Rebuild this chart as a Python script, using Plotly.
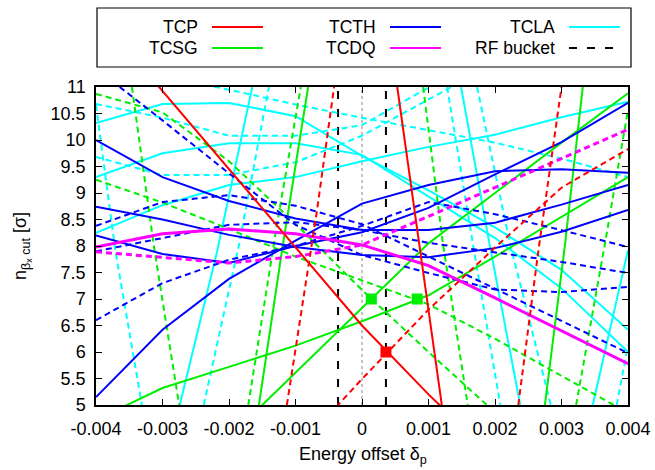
import plotly.graph_objects as go

# ---------------- data ----------------
DP = [-0.004, -0.003, -0.002, -0.001, 0.0, 0.001, 0.002, 0.003, 0.004]

# TCP (red)
tcp_s1_x = DP
tcp_s1_y = [12.4, 10.93, 9.45, 7.98, 6.5, 5.2, 4.0, 2.8, 1.6]
tcp_s2_x = [0.00053, 0.00082, 0.0012]
tcp_s2_y = [11.0, 8.4, 5.0]
tcp_d1_x = [-0.00113, -0.00068, -0.00042]
tcp_d1_y = [5.0, 8.64, 11.0]
tcp_d2_x = DP[3:]
tcp_d2_y = [4.13, 5.49, 6.8, 7.97, 9.1, 9.83]
tcp_d3_x = [0.00235, 0.00265, 0.003]
tcp_d3_y = [5.0, 7.89, 11.0]

# TCSG (green)
tcsg_s1_x = [-0.00155, -0.0012, -0.00081]
tcsg_s1_y = [5.0, 7.94, 11.0]
tcsg_s2_x = DP[2:]
tcsg_s2_y = [4.39, 5.61, 6.83, 8.05, 9.0, 9.95, 10.88]
tcsg_s3_x = DP
tcsg_s3_y = [4.72, 5.32, 5.72, 6.12, 6.58, 7.07, 7.8, 8.55, 9.3]
tcsg_s4_x = [0.00275, 0.00305, 0.00332]
tcsg_s4_y = [5.0, 8.0, 11.0]
tcsg_d1_x = DP[:7]
tcsg_d1_y = [10.87, 10.52, 9.6, 8.42, 7.17, 6.0, 4.86]
tcsg_d2_x = DP
tcsg_d2_y = [9.25, 8.82, 8.32, 7.8, 7.35, 6.9, 6.25, 5.55, 4.85]
tcsg_d3_x = [-0.00346, -0.00313, -0.00275]
tcsg_d3_y = [11.0, 8.0, 5.0]
tcsg_d4_x = [-0.00171, -0.00128, -0.00092]
tcsg_d4_y = [5.0, 8.4, 11.0]
tcsg_d5_x = [0.00092, 0.00122, 0.00159]
tcsg_d5_y = [11.0, 8.02, 5.0]
tcsg_d6_x = [0.00322, 0.00365, 0.004]
tcsg_d6_y = [5.0, 8.02, 10.57]

# TCTH (blue)
tcth_s1_y = [10.0, 9.3, 8.85, 8.52, 8.3, 8.3, 8.44, 8.78, 9.15]
tcth_s2_y = [5.15, 6.42, 7.38, 8.1, 8.8, 9.15, 9.41, 9.45, 9.38]
tcth_s3_y = [8.74, 8.5, 8.21, 7.98, 7.83, 7.79, 7.96, 8.27, 8.68]
tcth_s4_y = [8.2, 7.85, 7.68, 8.0, 8.26, 8.72, 9.35, 9.96, 10.7]
tcth_d1_y = [11.35, 10.37, 9.37, 8.4, 7.83, 7.49, 7.18, 7.13, 7.23]
tcth_d2_y = [8.38, 8.83, 8.96, 8.76, 8.41, 7.8, 7.19, 6.59, 5.98]
tcth_d3_y = [6.6, 7.3, 7.74, 8.0, 8.38, 8.83, 8.6, 8.3, 7.98]
tcth_d4_y = [7.9, 8.15, 8.4, 8.45, 8.3, 8.06, 7.88, 7.7, 7.49]

# TCDQ (magenta)
tcdq_s_y = [7.98, 8.23, 8.32, 8.23, 8.02, 7.63, 7.02, 6.4, 5.78]
tcdq_d_y = [7.89, 7.79, 7.68, 7.8, 8.02, 8.56, 9.1, 9.65, 10.2]

# TCLA (cyan)
tcla_s1_y = [10.32, 10.68, 10.7, 10.45, 9.7, 9.05, 8.35, 7.55, 6.42]
tcla_s2_y = [9.3, 9.75, 9.94, 9.94, 9.72, 8.94, 8.15, 7.2, 6.0]
tcla_s3_y = [8.25, 8.77, 9.15, 9.3, 9.6, 9.87, 10.1, 10.43, 10.72]
tcla_s4_x = [-0.00274, -0.00218, -0.00165]
tcla_s4_y = [5.0, 7.89, 11.0]
tcla_s5_x = [0.00149, 0.00192, 0.00238]
tcla_s5_y = [11.0, 8.02, 5.0]
tcla_s6_x = [0.00347, 0.004]
tcla_s6_y = [5.0, 7.92]
tcla_d1_y = [11.4, 11.2, 10.95, 10.67, 10.42, 10.18, 9.95, 9.65, 9.3]
tcla_d2_x = DP[:7]
tcla_d2_y = [10.68, 10.42, 10.08, 10.08, 10.28, 11.0, 11.7]
tcla_d3_x = DP[:7]
tcla_d3_y = [9.68, 9.34, 9.34, 9.58, 10.08, 10.76, 11.45]
tcla_d4_x = [-0.004, -0.00371, -0.00331]
tcla_d4_y = [10.66, 7.92, 5.0]
tcla_d5_x = [-0.00238, -0.00185, -0.0014]
tcla_d5_y = [5.0, 8.02, 11.0]
tcla_d6_x = [0.00128, 0.00167, 0.00208]
tcla_d6_y = [11.0, 8.02, 5.0]
tcla_d7_x = [0.00173, 0.00223, 0.00284]
tcla_d7_y = [11.0, 8.02, 5.0]
tcla_d8_x = [0.00383, 0.004]
tcla_d8_y = [5.0, 6.13]

# RF bucket and markers
rf_half = 0.00036
tcp_mark_x = [0.00036]
tcp_mark_y = [6.0]
tcsg_mark_x = [0.00014, 0.00083]
tcsg_mark_y = [7.0, 7.0]

x_ticks = [-0.004, -0.003, -0.002, -0.001, 0, 0.001, 0.002, 0.003, 0.004]
x_ticklabels = ["-0.004", "-0.003", "-0.002", "-0.001", "0", "0.001", "0.002", "0.003", "0.004"]
y_ticks = [5, 5.5, 6, 6.5, 7, 7.5, 8, 8.5, 9, 9.5, 10, 10.5, 11]
y_ticklabels = ["5", "5.5", "6", "6.5", "7", "7.5", "8", "8.5", "9", "9.5", "10", "10.5", "11"]

legend_names = ["TCP", "TCSG", "TCTH", "TCDQ", "TCLA", "RF bucket"]

# ---------------- styles ----------------
RED, GREEN, BLUE, MAG, CYAN = "#ff0000", "#00ee00", "#0000ff", "#ff00ff", "#00ffff"
DASH = "6px,4px"
FONT = "Liberation Sans, Arial, sans-serif"

fig = go.Figure()

def add(x, y, color, dash="solid", width=2):
    fig.add_trace(go.Scatter(x=x, y=y, mode="lines",
                             line=dict(color=color, width=width, dash=dash),
                             hoverinfo="skip", showlegend=False))

# zero line and RF bucket
add([0, 0], [5, 11], "#888888", "dot", 1)
add([-rf_half, -rf_half], [5, 11], "black", "8px,10px", 2)
add([rf_half, rf_half], [5, 11], "black", "8px,10px", 2)

# TCLA
for xx, yy in [(DP, tcla_s1_y), (DP, tcla_s2_y), (DP, tcla_s3_y), (tcla_s4_x, tcla_s4_y),
               (tcla_s5_x, tcla_s5_y), (tcla_s6_x, tcla_s6_y)]:
    add(xx, yy, CYAN)
for xx, yy in [(DP, tcla_d1_y), (tcla_d2_x, tcla_d2_y), (tcla_d3_x, tcla_d3_y), (tcla_d4_x, tcla_d4_y),
               (tcla_d5_x, tcla_d5_y), (tcla_d6_x, tcla_d6_y), (tcla_d7_x, tcla_d7_y), (tcla_d8_x, tcla_d8_y)]:
    add(xx, yy, CYAN, DASH)

# TCSG
for xx, yy in [(tcsg_s1_x, tcsg_s1_y), (tcsg_s2_x, tcsg_s2_y), (tcsg_s3_x, tcsg_s3_y), (tcsg_s4_x, tcsg_s4_y)]:
    add(xx, yy, GREEN)
for xx, yy in [(tcsg_d1_x, tcsg_d1_y), (tcsg_d2_x, tcsg_d2_y), (tcsg_d3_x, tcsg_d3_y),
               (tcsg_d4_x, tcsg_d4_y), (tcsg_d5_x, tcsg_d5_y), (tcsg_d6_x, tcsg_d6_y)]:
    add(xx, yy, GREEN, DASH)

# TCTH
for yy in [tcth_s1_y, tcth_s2_y, tcth_s3_y, tcth_s4_y]:
    add(DP, yy, BLUE)
for yy in [tcth_d1_y, tcth_d2_y, tcth_d3_y, tcth_d4_y]:
    add(DP, yy, BLUE, DASH)

# TCDQ
add(DP, tcdq_s_y, MAG, "solid", 3)
add(DP, tcdq_d_y, MAG, DASH, 3)

# TCP
add(tcp_s1_x, tcp_s1_y, RED)
add(tcp_s2_x, tcp_s2_y, RED)
for xx, yy in [(tcp_d1_x, tcp_d1_y), (tcp_d2_x, tcp_d2_y), (tcp_d3_x, tcp_d3_y)]:
    add(xx, yy, RED, DASH)

# markers
fig.add_trace(go.Scatter(x=tcsg_mark_x, y=tcsg_mark_y, mode="markers",
                         marker=dict(symbol="square", size=11, color=GREEN), hoverinfo="skip", showlegend=False))
fig.add_trace(go.Scatter(x=tcp_mark_x, y=tcp_mark_y, mode="markers",
                         marker=dict(symbol="square", size=11, color=RED), hoverinfo="skip", showlegend=False))

# ---------------- legend (drawn manually, gnuplot style) ----------------
W, H = 655, 470
L, R, T, B = 96, 27, 87, 65
pw, ph = W - L - R, H - T - B

def px(x):
    return (x - L) / pw

def py(y):
    return (H - B - y) / ph

shapes = [dict(type="rect", xref="paper", yref="paper", x0=px(97), x1=px(631), y0=py(67), y1=py(8),
               line=dict(color="black", width=1.2), fillcolor="white", layer="above")]
annotations = []
leg_items = [(legend_names[0], RED, 200, 27, "solid"), (legend_names[1], GREEN, 200, 48, "solid"),
             (legend_names[2], BLUE, 378, 27, "solid"), (legend_names[3], MAG, 378, 48, "solid"),
             (legend_names[4], CYAN, 557, 27, "solid"), (legend_names[5], "black", 557, 48, "8px,10px")]
for name, col, xe, yc, dsh in leg_items:
    annotations.append(dict(text=name, xref="paper", yref="paper", x=px(xe), y=py(yc),
                            xanchor="right", yanchor="middle", showarrow=False,
                            font=dict(family=FONT, size=17.5, color="black")))
    shapes.append(dict(type="line", xref="paper", yref="paper", x0=px(xe + 12), x1=px(xe + 63),
                       y0=py(yc), y1=py(yc), line=dict(color=col, width=2, dash=dsh), layer="above"))

annotations.append(dict(text="Energy offset δ<sub>p</sub>", xref="paper", yref="paper",
                        x=px(363), y=py(455), xanchor="center", yanchor="middle", showarrow=False,
                        font=dict(family=FONT, size=18, color="black")))
annotations.append(dict(text="n<sub>β<sub>x</sub> cut</sub> [σ]", xref="paper", yref="paper",
                        x=px(22), y=py(246), xanchor="center", yanchor="middle", showarrow=False,
                        textangle=-90,
                        font=dict(family=FONT, size=18, color="black")))

axis_common = dict(showline=True, linecolor="black", linewidth=1.5, mirror="allticks",
                   ticks="inside", ticklen=6, tickwidth=1, tickcolor="black",
                   showgrid=False, zeroline=False, automargin=False,
                   tickfont=dict(family=FONT, size=18, color="black"))

fig.update_layout(
    width=W, height=H,
    margin=dict(l=L, r=R, t=T, b=B, autoexpand=False),
    paper_bgcolor="white", plot_bgcolor="white",
    showlegend=False, hovermode=False,
    xaxis=dict(range=[-0.004, 0.004], tickvals=x_ticks, ticktext=x_ticklabels,
               ticklabelstandoff=7, **axis_common),
    yaxis=dict(range=[5, 11], tickvals=y_ticks, ticktext=y_ticklabels,
               ticklabelstandoff=5, **axis_common),
    shapes=shapes, annotations=annotations,
)

fig.write_html("out.html")
